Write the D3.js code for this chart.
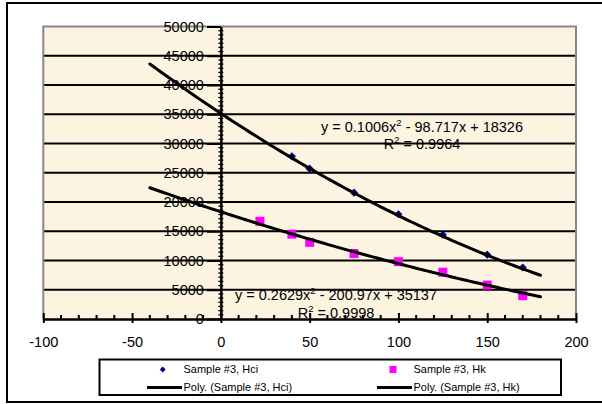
<!DOCTYPE html>
<html>
<head>
<meta charset="utf-8">
<script src="https://cdn.jsdelivr.net/npm/d3@7"></script>
<style>
  html, body { margin: 0; padding: 0; background: #fff; }
  svg { display: block; }
  text { font-family: "Liberation Sans", Arial, sans-serif; fill: #000; }
</style>
</head>
<body>
<svg id="chart" width="602" height="404"></svg>
<script>
// Sample #3 coercivity measurements
const hciX = [40, 50, 75, 100, 125, 150, 170];
const hciY = [27800, 25700, 21600, 17900, 14400, 11000, 8800];
const hkX = [22, 40, 50, 75, 100, 125, 150, 170];
const hkY = [16700, 14500, 13100, 11200, 9800, 8000, 5800, 4000];

// Second-order polynomial trendline coefficients [a, b, c] for a*x^2 + b*x + c
const hciFit = [0.2629, -200.97, 35137];
const hkFit = [0.1006, -98.717, 18326];
const fitRange = [-40, 180];

const xTicks = [-100, -50, 0, 50, 100, 150, 200];
const yTicks = [0, 5000, 10000, 15000, 20000, 25000, 30000, 35000, 40000, 45000, 50000];

const legendLabels = ["Sample #3, Hci", "Sample #3, Hk", "Poly. (Sample #3, Hci)", "Poly. (Sample #3, Hk)"];

const svg = d3.select("#chart");

// outer chart frame
svg.append("rect")
  .attr("x", 7).attr("y", 3).attr("width", 600).attr("height", 399)
  .attr("fill", "#fff").attr("stroke", "#000").attr("stroke-width", 2);

const x = d3.scaleLinear().domain([-100, 200]).range([43.3, 576]);
const y = d3.scaleLinear().domain([0, 50000]).range([319, 26.5]);

// plot area
svg.append("rect")
  .attr("x", x(-100)).attr("y", y(50000))
  .attr("width", x(200) - x(-100)).attr("height", y(0) - y(50000))
  .attr("fill", "#FCF4E0");

// horizontal gridlines
svg.append("g")
  .selectAll("line")
  .data(yTicks.filter(v => v > 0 && v < 50000))
  .join("line")
  .attr("x1", x(-100)).attr("x2", x(200))
  .attr("y1", d => y(d)).attr("y2", d => y(d))
  .attr("stroke", "#000").attr("stroke-width", 2);

// plot area border (left, top, right)
svg.append("path")
  .attr("d", `M${x(-100)},${y(0)}V${y(50000)}H${x(200)}V${y(0)}`)
  .attr("fill", "none").attr("stroke", "#888").attr("stroke-width", 2);

// y axis minor ticks (crossing)
const yMinor = d3.range(0, 50000, 5000 / 7).filter(v => v % 5000 > 1);
svg.append("g")
  .selectAll("line")
  .data(yMinor)
  .join("line")
  .attr("x1", x(0) - 2.5).attr("x2", x(0) + 2.5)
  .attr("y1", d => y(d)).attr("y2", d => y(d))
  .attr("stroke", "#000").attr("stroke-width", 1.3);

// plain hyphen-minus labels
const plain = d => String(d);

// y axis at x = 0
const yAxis = d3.axisLeft(y).tickValues(yTicks).tickSize(14).tickSizeOuter(0).tickPadding(3)
  .tickFormat(plain);
const gy = svg.append("g").attr("transform", `translate(${x(0)},0)`).call(yAxis);
gy.select(".domain").attr("stroke", "#000").attr("stroke-width", 2.5);
gy.selectAll(".tick line").attr("stroke", "#000").attr("stroke-width", 2);
gy.selectAll(".tick text")
  .style("font-family", '"Liberation Sans", Arial, sans-serif')
  .style("font-size", "14.5px").attr("fill", "#000");

// x axis minor ticks
const xMinor = d3.range(-100, 201, 10).filter(v => v % 50 !== 0);
svg.append("g")
  .selectAll("line")
  .data(xMinor)
  .join("line")
  .attr("x1", d => x(d)).attr("x2", d => x(d))
  .attr("y1", y(0) - 4).attr("y2", y(0))
  .attr("stroke", "#000").attr("stroke-width", 2);

// x axis at y = 0
const xAxis = d3.axisBottom(x).tickValues(xTicks).tickSize(4).tickSizeOuter(0).tickPadding(14)
  .tickFormat(plain);
const gx = svg.append("g").attr("transform", `translate(0,${y(0)})`).call(xAxis);
gx.select(".domain").attr("stroke", "#000").attr("stroke-width", 2.5);
gx.selectAll(".tick line").attr("y1", -6).attr("stroke", "#000").attr("stroke-width", 2);
gx.selectAll(".tick text")
  .style("font-family", '"Liberation Sans", Arial, sans-serif')
  .style("font-size", "14.5px").attr("fill", "#000");

// data markers
const diamond = d3.symbol().type(d3.symbolDiamond2).size(42);
svg.append("g")
  .selectAll("path")
  .data(hciX.map((v, i) => [v, hciY[i]]))
  .join("path")
  .attr("transform", d => `translate(${x(d[0])},${y(d[1])})`)
  .attr("d", diamond)
  .attr("fill", "#000080");

svg.append("g")
  .selectAll("rect")
  .data(hkX.map((v, i) => [v, hkY[i]]))
  .join("rect")
  .attr("x", d => x(d[0]) - 4.5).attr("y", d => y(d[1]) - 4.5)
  .attr("width", 9).attr("height", 9)
  .attr("fill", "#FF00FF");

// polynomial trendlines
const poly = c => v => c[0] * v * v + c[1] * v + c[2];
const fitXs = d3.range(fitRange[0], fitRange[1] + 0.01, 2);
const line = d3.line().x(d => x(d[0])).y(d => y(d[1])).curve(d3.curveLinear);
[hciFit, hkFit].forEach(c => {
  const f = poly(c);
  svg.append("path")
    .attr("d", line(fitXs.map(v => [v, f(v)])))
    .attr("fill", "none").attr("stroke", "#000").attr("stroke-width", 3)
    .attr("stroke-linecap", "round");
});

// trendline equation labels
function equation(cx, by, a, b, c, r2) {
  const t = svg.append("text")
    .attr("x", cx).attr("y", by)
    .attr("text-anchor", "middle")
    .style("font-size", "14.5px");
  t.append("tspan").text(`y = ${a}x`);
  t.append("tspan").attr("dy", -6).style("font-size", "9.5px").text("2");
  t.append("tspan").attr("dy", 6).text(` - ${b}x + ${c}`);
  const r = svg.append("text")
    .attr("x", cx).attr("y", by + 17.5)
    .attr("text-anchor", "middle")
    .style("font-size", "14.5px");
  r.append("tspan").text("R");
  r.append("tspan").attr("dy", -6).style("font-size", "9.5px").text("2");
  r.append("tspan").attr("dy", 6).text(` = ${r2}`);
}
equation(422, 131.5, hkFit[0], -hkFit[1], hkFit[2], "0.9964");
equation(336, 300, hciFit[0], -hciFit[1], hciFit[2], "0.9998");

// legend
const lg = svg.append("g");
lg.append("rect")
  .attr("x", 99.5).attr("y", 359.5).attr("width", 461.5).attr("height", 35.5)
  .attr("fill", "#fff").attr("stroke", "#000").attr("stroke-width", 2);

const legendFont = "11px";
const row1 = 369.5, row2 = 387.5;
lg.append("path")
  .attr("transform", `translate(162.7,${row1})`)
  .attr("d", d3.symbol().type(d3.symbolDiamond2).size(22))
  .attr("fill", "#000080");
lg.append("rect")
  .attr("x", 389.5).attr("y", row1 - 3.5).attr("width", 7).attr("height", 7)
  .attr("fill", "#FF00FF");
lg.append("line").attr("x1", 147).attr("x2", 182).attr("y1", row2).attr("y2", row2)
  .attr("stroke", "#000").attr("stroke-width", 3);
lg.append("line").attr("x1", 377).attr("x2", 412).attr("y1", row2).attr("y2", row2)
  .attr("stroke", "#000").attr("stroke-width", 3);

const legendPos = [[183.5, row1], [413.5, row1], [183.5, row2], [413.5, row2]];
lg.selectAll("text.lab")
  .data(legendLabels)
  .join("text")
  .attr("class", "lab")
  .attr("x", (d, i) => legendPos[i][0])
  .attr("y", (d, i) => legendPos[i][1])
  .attr("dy", "0.36em")
  .style("font-size", legendFont)
  .text(d => d);
</script>
</body>
</html>
